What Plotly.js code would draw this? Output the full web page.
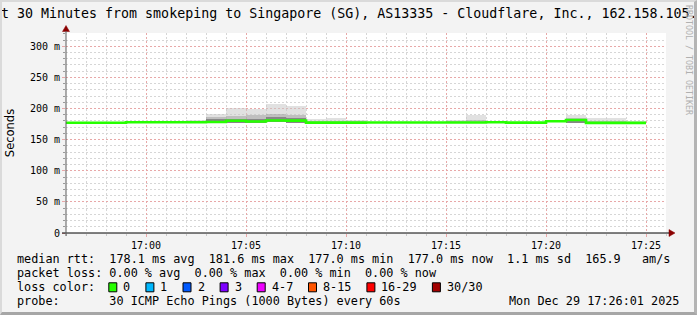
<!DOCTYPE html>
<html><head><meta charset="utf-8">
<script src="https://cdn.plot.ly/plotly-3.0.1.min.js"></script>
<style>
html,body{margin:0;padding:0;background:#f3f3f3;}
#wrap{position:relative;width:697px;height:315px;overflow:hidden;}
#chart{position:absolute;left:0;top:0;width:697px;height:315px;}
#frame{position:absolute;left:0;top:0;width:697px;height:315px;box-sizing:border-box;border-top:2px solid #dadada;border-left:2px solid #dadada;border-right:3px solid #b4b4b4;border-bottom:3px solid #a6a6a6;pointer-events:none;}
</style></head><body>
<div id="wrap"><div id="chart"></div><div id="frame"></div></div>
<script>
// ---- data, values in milliseconds ----
const day = "2025-12-29";
const minutes = ["16:56","16:57","16:58","16:59","17:00","17:01","17:02","17:03","17:04","17:05",
                 "17:06","17:07","17:08","17:09","17:10","17:11","17:12","17:13","17:14","17:15",
                 "17:16","17:17","17:18","17:19","17:20","17:21","17:22","17:23","17:24"];
const medianRtt = [177.2,177.2,177.2,178.0,178.0,178.0,178.0,178.4,180.3,179.2,
                   180.8,180.6,177.3,177.3,177.4,177.5,177.5,177.5,177.5,177.5,
                   177.6,178.0,177.4,177.4,179.5,181.6,177.0,177.0,177.0];
const smokeMax  = [178.4,178.4,178.4,179.2,179.2,179.2,181.0,192.0,201.6,200.0,
                   206.9,204.3,184.0,184.5,182.4,179.0,179.0,179.0,179.0,182.4,
                   190.0,179.2,178.6,178.6,182.4,190.4,184.5,185.0,180.0];
const smokeHigh = [178.0,178.0,178.0,178.8,178.8,178.8,179.6,186.7,188.3,189.0,
                   192.0,190.0,180.5,180.5,179.5,178.4,178.4,178.4,178.4,179.4,
                   182.0,178.8,178.2,178.2,180.8,185.0,180.0,180.0,178.6];
const smokeMid  = [177.6,177.6,177.6,178.4,178.4,178.4,178.6,182.9,184.0,184.0,
                   186.7,185.0,178.6,178.6,178.2,177.9,177.9,177.9,177.9,178.2,
                   179.0,178.4,177.8,177.8,180.0,183.0,178.0,178.0,177.6];
const smokeMin  = [176.6,176.6,176.6,177.3,177.3,177.3,177.3,177.2,176.6,177.0,
                   177.6,176.6,176.6,176.6,176.7,176.9,176.9,176.9,176.9,176.9,
                   177.0,177.3,176.8,176.8,178.2,176.6,176.1,176.2,176.3];
const yTickVals = [0,50,100,150,200,250,300];
const yTickText = ["0","50 m","100 m","150 m","200 m","250 m","300 m"];
const xTickLabels = ["17:00","17:05","17:10","17:15","17:20","17:25"];
const lossLabels = ["0","1","2","3","4-7","8-15","16-29","30/30"];
const lossColors = ["#26ff00","#00b8ff","#0059ff","#7e00ff","#ee00ff","#ff5500","#ff0000","#a10000"];
const titleText = "Last 30 Minutes from smokeping to Singapore (SG), AS13335 - Cloudflare, Inc., 162.158.105.";
const statLines = [
  "median rtt:  178.1 ms avg  181.6 ms max  177.0 ms min  177.0 ms now  1.1 ms sd  165.9   am/s",
  "packet loss: 0.00 % avg  0.00 % max  0.00 % min  0.00 % now",
  "loss color:",
  "probe:       30 ICMP Echo Pings (1000 Bytes) every 60s"
];
const stampText = "Mon Dec 29 17:26:01 2025";
const rangeStart = "16:56", rangeEnd = "17:26";

// ---- geometry helpers (pixel -> paper) ----
const L = 66, T = 33, W = 600, H = 200;
const px = p => (p - L) / W;
const py = p => (T + H - p) / H;
const ts = m => day + " " + m + ":00";
const nb = s => s.replace(/ /g, "\u00a0");
const mono = "DejaVu Sans Mono";

const xs = minutes.map(ts);
const STEP = 60000;
function band(top, bottom, color) {
  return {type:"bar", x: xs, base: bottom, y: top.map((v,i)=>v-bottom[i]),
    width: STEP, offset: 0, marker:{color: color, line:{width:0}},
    hoverinfo:"skip", showlegend:false};
}
const lastT = new Date(new Date(xs[xs.length-1].replace(" ","T")).getTime() + STEP);
const pad2 = n => String(n).padStart(2,"0");
const endStr = day + " " + pad2(lastT.getHours()) + ":" + pad2(lastT.getMinutes()) + ":00";

const traces = [
  band(smokeMax, smokeMin, "rgba(200,200,200,0.55)"),
  band(smokeHigh, smokeMin, "rgba(150,150,150,0.45)"),
  band(smokeMid, smokeMin, "rgba(90,90,90,0.55)"),
  {type:"scatter", mode:"lines", x: xs.concat([endStr]), y: medianRtt.concat([medianRtt[medianRtt.length-1]]),
   line:{shape:"hv", color: lossColors[0], width: 2.6}, hoverinfo:"skip", showlegend:false}
];

const annotations = [];
annotations.push({xref:"paper", yref:"paper", x: px(-25), y: py(13.5), xanchor:"left", yanchor:"middle",
  text: nb(titleText), showarrow:false, font:{family: mono, size:13.3, color:"#000"}});
annotations.push({xref:"paper", yref:"paper", x: px(689), y: py(60), xanchor:"center", yanchor:"middle",
  text: nb("RRDTOOL / TOBI OETIKER"), textangle: 90, showarrow:false, font:{family: mono, size:8.3, color:"#b0b0b0"}});
const lineY = [259.3, 273.3, 287.3, 301.2];
statLines.forEach((s,i)=>{
  annotations.push({xref:"paper", yref:"paper", x: px(15), y: py(lineY[i]), xanchor:"left", yanchor:"middle",
    text: nb(s), showarrow:false, font:{family: mono, size:11.8, color:"#000"}});
});
annotations.push({xref:"paper", yref:"paper", x: px(681), y: py(lineY[3]), xanchor:"right", yanchor:"middle",
  text: nb(stampText), showarrow:false, font:{family: mono, size:11.8, color:"#000"}});

const shapes = [];
let sx = 108.3;
lossLabels.forEach((lab,i)=>{
  shapes.push({type:"rect", xref:"paper", yref:"paper", x0: px(sx+0.5), x1: px(sx+8.5), y0: py(282.8), y1: py(291.8),
    fillcolor: lossColors[i], line:{color:"#000", width:1}, layer:"above"});
  annotations.push({xref:"paper", yref:"paper", x: px(sx+13), y: py(lineY[2]), xanchor:"left", yanchor:"middle",
    text: nb(lab), showarrow:false, font:{family: mono, size:11.8, color:"#000"}});
  sx += 30 + 7.1*lab.length;
});
// axis arrows and axis-line extension
shapes.push({type:"path", xref:"paper", yref:"paper",
  path: `M ${px(669)} ${py(229.5)} L ${px(675)} ${py(233)} L ${px(669)} ${py(236.5)} Z`,
  fillcolor:"#8b0000", line:{color:"#8b0000", width:0.5}, layer:"above"});
shapes.push({type:"path", xref:"paper", yref:"paper",
  path: `M ${px(62.5)} ${py(31.5)} L ${px(66)} ${py(25.5)} L ${px(69.5)} ${py(31.5)} Z`,
  fillcolor:"#8b0000", line:{color:"#8b0000", width:0.5}, layer:"above"});
shapes.push({type:"line", xref:"paper", yref:"paper", x0: px(62), x1: px(669), y0: py(233), y1: py(233),
  line:{color:"#000", width:1}, layer:"above"});
shapes.push({type:"line", xref:"paper", yref:"paper", x0: px(66), x1: px(66), y0: py(31), y1: py(236),
  line:{color:"#5a5a5a", width:1}, layer:"above"});

const gridMajor = "#e8a8a8", gridMinor = "#d6d6d6";
const layout = {
  width:697, height:315, margin:{l:L, r:697-L-W, t:T, b:315-T-H},
  paper_bgcolor:"#f3f3f3", plot_bgcolor:"#ffffff",
  showlegend:false, barmode:"overlay", bargap:0,
  font:{family: mono, size:10, color:"#000"},
  xaxis:{type:"date", range:[ts(rangeStart), ts(rangeEnd)], tickmode:"array",
    tickvals: xTickLabels.map(ts), ticktext: xTickLabels,
    showgrid:true, gridcolor: gridMajor, griddash:"2px,2px", gridwidth:1,
    ticks:"outside", ticklen:3, tickcolor: gridMajor, showline:false, zeroline:false,
    tickfont:{family: mono, size:10, color:"#000"},
    minor:{tickmode:"linear", tick0: ts(rangeStart), dtick: STEP, showgrid:true, gridcolor: gridMinor,
      griddash:"2px,2px", ticks:"outside", ticklen:2, tickcolor:"#c8c8c8"},
    fixedrange:true},
  yaxis:{range:[0, 321.4], tickmode:"array", tickvals: yTickVals, ticktext: yTickText,
    showgrid:true, gridcolor: gridMajor, griddash:"2px,2px", gridwidth:1,
    ticks:"outside", ticklen:3, tickcolor: gridMajor, showline:false, zeroline:false,
    tickfont:{family: mono, size:10, color:"#000"},
    title:{text:"Seconds", font:{family:"DejaVu Sans", size:11.5, color:"#000"}, standoff:12},
    minor:{tickmode:"linear", tick0:0, dtick:10, showgrid:true, gridcolor: gridMinor,
      griddash:"2px,2px", ticks:"outside", ticklen:2, tickcolor:"#999"},
    fixedrange:true},
  annotations, shapes
};
Plotly.newPlot("chart", traces, layout, {displayModeBar:false, staticPlot:true});
</script></body></html>
